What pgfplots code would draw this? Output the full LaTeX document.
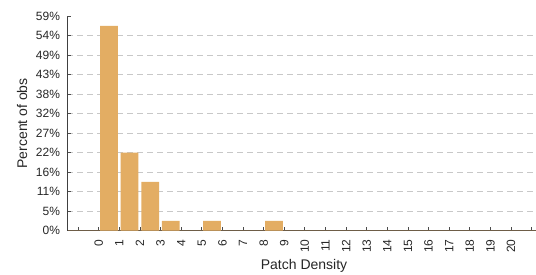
\documentclass[border=0pt]{standalone}
\usepackage{pgfplots}
\pgfplotsset{compat=1.18}
\usepackage{fontspec}
\setmainfont{Liberation Sans}
\definecolor{barc}{HTML}{E3AD63}
\definecolor{gridc}{HTML}{C8C8C8}
\definecolor{baseline}{HTML}{6E5D47}
\begin{document}
\begin{tikzpicture}
\useasboundingbox (0,0) rectangle (402pt,206.25pt);
\begin{axis}[
  at={(50.5pt,33.2pt)}, anchor=south west,
  scale only axis, width=351.5pt, height=161pt,
  xmin=-1.52, xmax=21.21, ymin=0, ymax=59.4595,
  axis lines=left, axis line style={-, draw=black!75, line width=0.6pt},
  x axis line style={draw=baseline, line width=0.8pt},
  xtick={-1,0,...,21},
  xticklabels={,0,1,2,3,4,5,6,7,8,9,10,11,12,13,14,15,16,17,18,19,20,},
  ytick={0,5.4054,10.8108,16.2162,21.6216,27.0270,32.4324,37.8378,43.2432,48.6486,54.0541},
  yticklabels={0\%,5\%,11\%,16\%,22\%,27\%,32\%,38\%,43\%,49\%,54\%},
  extra y ticks={59.4595}, extra y tick labels={59\%},
  extra y tick style={grid=none},
  ymajorgrids, major grid style={draw=gridc, dash pattern=on 4.5pt off 3pt, line width=0.6pt},
  tick align=inside, major tick length=2.5pt,
  tick style={draw=black!70, line width=0.6pt},
  /pgf/number format/assume math mode=true,
  tick label style={font=\fontsize{9}{10}\selectfont, text=black!85},
  x tick label style={rotate=90, anchor=east},
  xticklabel shift=3pt, yticklabel shift=2pt,
  xlabel={Patch Density}, ylabel={Percent of obs},
  label style={font=\fontsize{10.5}{12}\selectfont, text=black!85},
  xlabel style={at={(axis description cs:0.505,-0.164)}, anchor=center},
  ylabel style={at={(axis description cs:-0.0967,0.5)}, anchor=center, rotate=0},
  clip=false,
]
\addplot[ybar, bar width=0.86, fill=barc, draw=none, bar shift=0pt]
  coordinates {(0.5,56.7568) (1.5,21.6216) (2.5,13.5135) (3.5,2.7027) (5.5,2.7027) (8.5,2.7027)};
\end{axis}
\end{tikzpicture}
\end{document}
